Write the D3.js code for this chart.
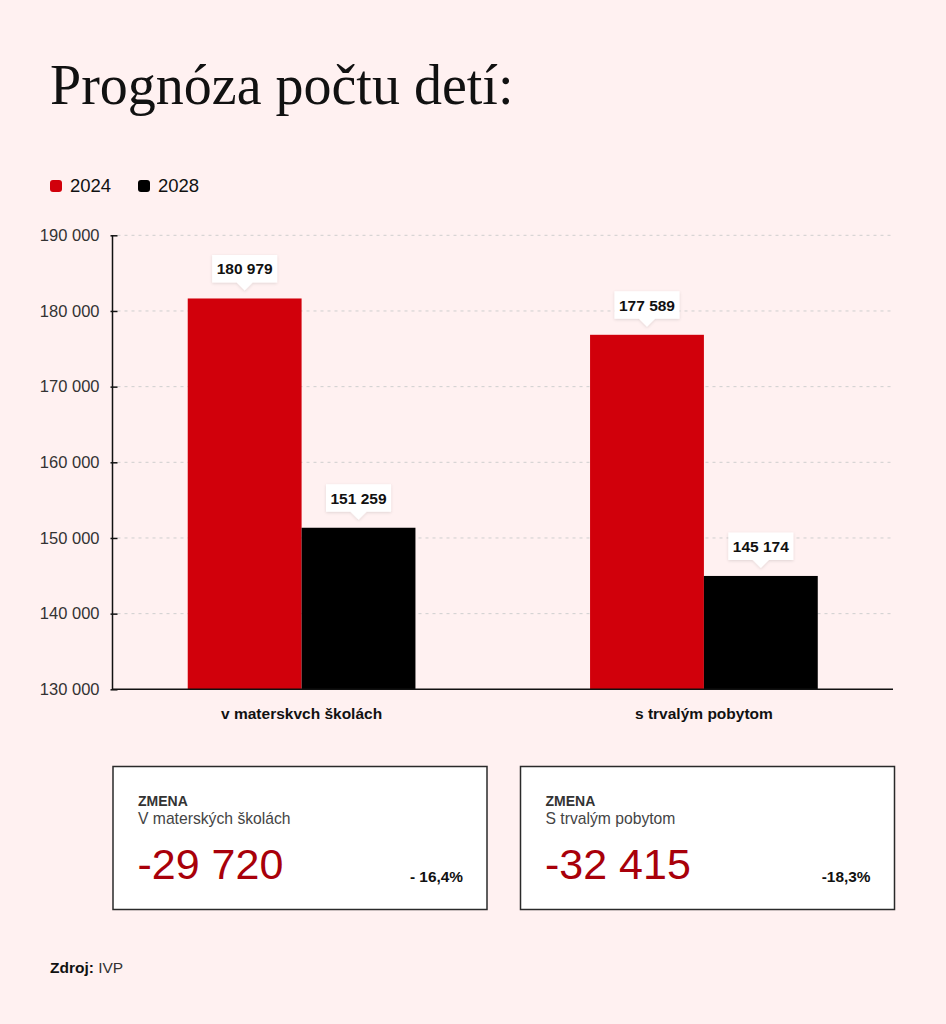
<!DOCTYPE html>
<html>
<head>
<meta charset="utf-8">
<script src="https://cdn.jsdelivr.net/npm/d3@7"></script>
<style>
  body { margin: 0; background: #fff1f1; }
  svg { display: block; font-family: "Liberation Sans", Arial, sans-serif; }
</style>
</head>
<body>
<svg id="chart" width="946" height="1024"></svg>
<script>
// data
const categories = ["v materskvch školách", "s trvalým pobytom"];
const years = ["2024", "2028"];
const yearColors = ["#d1000b", "#000000"];
// bar heights as drawn
const values2024 = [181650, 176850];
const values2028 = [151350, 144980];
// numbers printed above the bars
const labels2024 = ["180 979", "177 589"];
const labels2028 = ["151 259", "145 174"];
const yTicks = [130000, 140000, 150000, 160000, 170000, 180000, 190000];
// change boxes
const boxTitles = ["V materských školách", "S trvalým pobytom"];
const boxChanges = ["-29 720", "-32 415"];
const boxPercents = ["- 16,4%", "-18,3%"];

const svg = d3.select("#chart");
const W = 946;

svg.append("rect").attr("width", W).attr("height", 1024).attr("fill", "#fff1f1");

// drop shadow for the value labels
const defs = svg.append("defs");
const f = defs.append("filter").attr("id", "shadow").attr("x", "-20%").attr("y", "-30%").attr("width", "140%").attr("height", "160%");
f.append("feDropShadow").attr("dx", 0).attr("dy", 1).attr("stdDeviation", 1.5)
  .attr("flood-color", "#000").attr("flood-opacity", 0.12);

// title
svg.append("text")
  .attr("x", 50).attr("y", 104)
  .attr("font-family", "'Liberation Serif', 'Times New Roman', serif")
  .attr("font-size", 56)
  .attr("fill", "#111")
  .text("Prognóza počtu detí:");

// legend
let legend = svg.append("g").attr("transform", "translate(50,0)");
years.forEach((y, i) => {
  let g = legend.append("g").attr("transform", "translate(" + (i * 88) + ",0)");
  g.append("rect").attr("x", 0).attr("y", 180).attr("width", 12).attr("height", 12)
    .attr("rx", 3).attr("fill", yearColors[i]);
  g.append("text").attr("x", 20).attr("y", 192).attr("font-size", 18.5).attr("fill", "#111").text(y);
});

// scales
const margin = { left: 112.5, right: 893, top: 235.3, bottom: 689.3 };
const x0 = d3.scaleBand().domain(categories).range([margin.left, margin.right])
  .paddingInner(0.434).paddingOuter(0.187);
const x1 = d3.scaleBand().domain(years).range([0, x0.bandwidth()]);
const y = d3.scaleLinear().domain([130000, 190000]).range([margin.bottom, margin.top]);

const fmt = d => d3.format(",")(d).replace(/,/g, " ");

// gridlines
svg.append("g").selectAll("line")
  .data(yTicks.filter(t => t > 130000))
  .join("line")
  .attr("x1", margin.left + 5).attr("x2", margin.right)
  .attr("y1", d => y(d)).attr("y2", d => y(d))
  .attr("stroke", "#cfcfcf").attr("stroke-width", 1)
  .attr("stroke-dasharray", "3,4");

// y axis
let yAxis = svg.append("g")
  .attr("transform", "translate(" + margin.left + ",0)")
  .call(d3.axisLeft(y).tickValues(yTicks).tickFormat(fmt).tickSize(-5).tickPadding(13));
yAxis.select(".domain").attr("stroke", "#111").attr("stroke-width", 1.5).attr("d", "M0," + margin.top + "V" + margin.bottom);
yAxis.selectAll(".tick line").attr("stroke", "#111").attr("stroke-width", 1.5).attr("x1", -2);
yAxis.selectAll(".tick text").attr("font-size", 16.5).attr("fill", "#333")
  .attr("font-family", "'Liberation Sans', Arial, sans-serif");

// bars
const rows = categories.map((c, i) => ({
  cat: c,
  items: [
    { year: years[0], value: values2024[i], label: labels2024[i], color: yearColors[0] },
    { year: years[1], value: values2028[i], label: labels2028[i], color: yearColors[1] }
  ]
}));

let groups = svg.append("g").selectAll("g.group")
  .data(rows).join("g")
  .attr("class", "group")
  .attr("transform", d => "translate(" + x0(d.cat) + ",0)");

groups.selectAll("rect")
  .data(d => d.items).join("rect")
  .attr("x", d => x1(d.year))
  .attr("y", d => y(d.value))
  .attr("width", x1.bandwidth())
  .attr("height", d => y(130000) - y(d.value))
  .attr("fill", d => d.color);

// value labels with callout boxes
groups.selectAll("g.vlabel")
  .data(d => d.items).join("g")
  .attr("class", "vlabel")
  .each(function (d) {
    let g = d3.select(this);
    let cx = x1(d.year) + x1.bandwidth() / 2;
    let tip = y(d.value) - 8;
    let h = 27.5, pw = 8, ph = 8;
    let txt = g.append("text")
      .attr("x", cx).attr("y", tip - ph - 8)
      .attr("text-anchor", "middle")
      .attr("font-size", 15.5).attr("font-weight", "bold").attr("fill", "#111")
      .text(d.label);
    let w = txt.node().getComputedTextLength() + 9;
    let top = tip - ph - h;
    let path = d3.path();
    path.moveTo(cx - w / 2, top);
    path.lineTo(cx + w / 2, top);
    path.lineTo(cx + w / 2, top + h);
    path.lineTo(cx + pw, top + h);
    path.lineTo(cx, tip);
    path.lineTo(cx - pw, top + h);
    path.lineTo(cx - w / 2, top + h);
    path.closePath();
    g.insert("path", "text").attr("d", path.toString()).attr("fill", "#fff").attr("filter", "url(#shadow)");
  });

// x axis
svg.append("line")
  .attr("x1", margin.left).attr("x2", margin.right)
  .attr("y1", margin.bottom).attr("y2", margin.bottom)
  .attr("stroke", "#111").attr("stroke-width", 1.5);

svg.append("g").selectAll("text")
  .data(categories).join("text")
  .attr("x", d => x0(d) + x0.bandwidth() / 2)
  .attr("y", 718.5)
  .attr("text-anchor", "middle")
  .attr("font-size", 15.5).attr("font-weight", "bold").attr("fill", "#111")
  .text(d => d);

// change boxes
const boxX = [113, 520.5];
const boxW = 374, boxH = 143, boxY = 766.5;
boxTitles.forEach((t, i) => {
  let g = svg.append("g").attr("transform", "translate(" + boxX[i] + "," + boxY + ")");
  g.append("rect").attr("width", boxW).attr("height", boxH)
    .attr("fill", "#fff").attr("stroke", "#2a2a2a").attr("stroke-width", 1.5);
  g.append("text").attr("x", 25).attr("y", 39)
    .attr("font-size", 14).attr("font-weight", "bold").attr("fill", "#333").text("ZMENA");
  g.append("text").attr("x", 25).attr("y", 57.5)
    .attr("font-size", 15.7).attr("fill", "#444").text(t);
  g.append("text").attr("x", 24.5).attr("y", 112)
    .attr("font-size", 43).attr("fill", "#a8000a").text(boxChanges[i]);
  g.append("text").attr("x", boxW - 24).attr("y", 115.5)
    .attr("text-anchor", "end")
    .attr("font-size", 15.4).attr("font-weight", "bold").attr("fill", "#111").text(boxPercents[i]);
});

// source
let src = svg.append("text").attr("x", 50).attr("y", 972.5).attr("font-size", 15.5).attr("fill", "#111");
src.append("tspan").attr("font-weight", "bold").text("Zdroj: ");
src.append("tspan").attr("fill", "#333").text("IVP");
</script>
</body>
</html>
